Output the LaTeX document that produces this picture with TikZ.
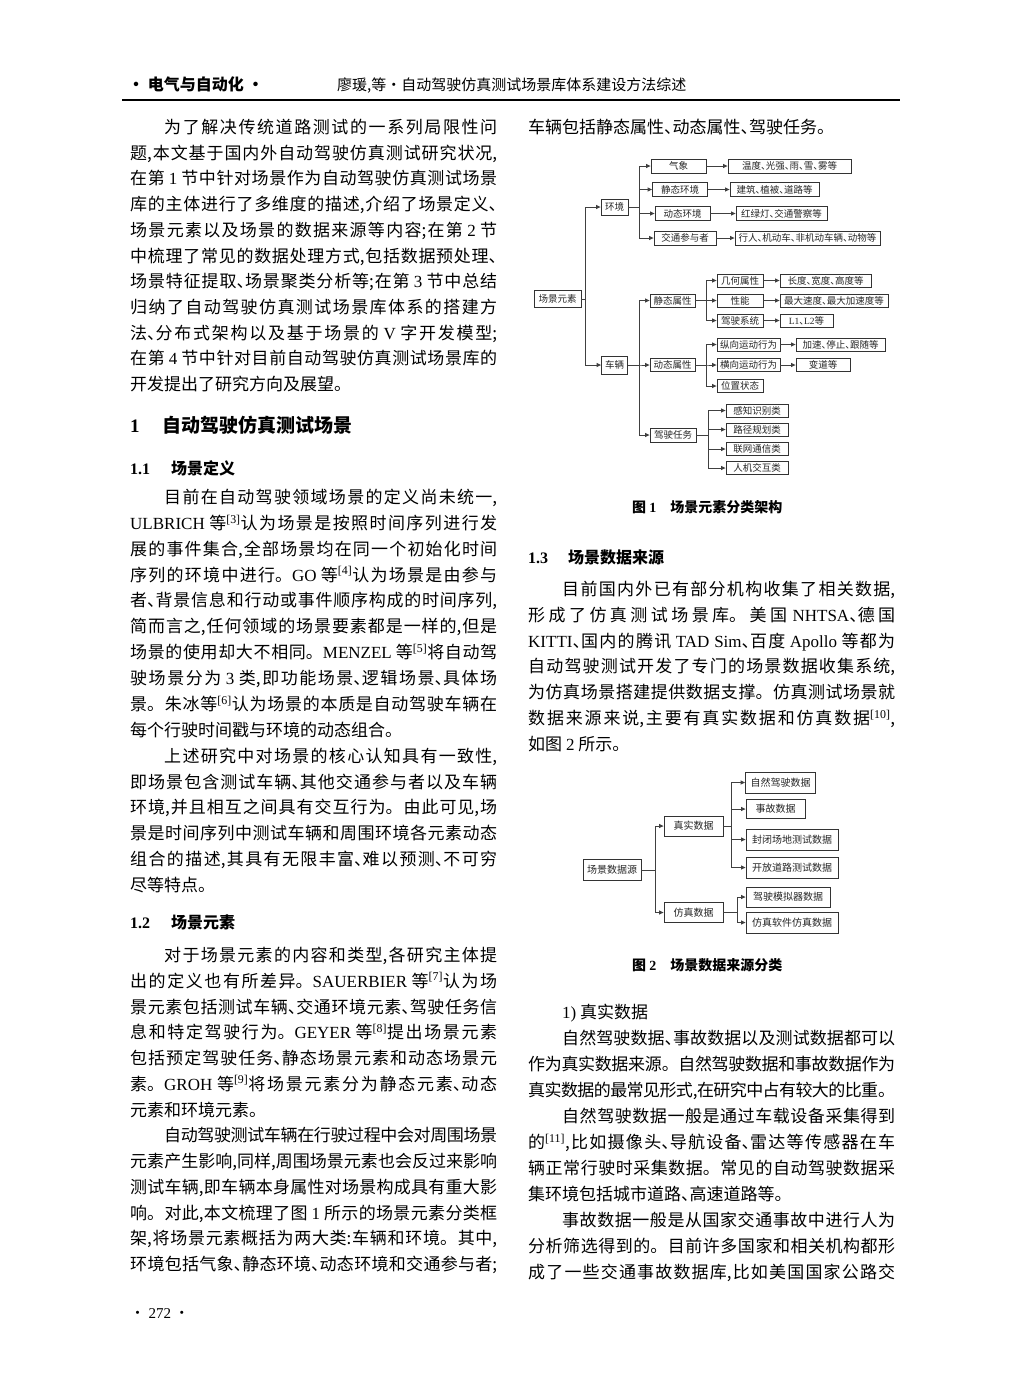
\documentclass[tikz,border=0pt]{standalone}
\usepackage{fontspec}
\setmainfont{Noto Sans CJK SC}
\newfontfamily\lat{Liberation Serif}
\usetikzlibrary{arrows.meta}
\XeTeXlinebreaklocale "zh"
\XeTeXlinebreakskip=0pt plus 4pt minus 1pt
\XeTeXlinebreakpenalty=10000
\catcode`、=\active
\protected\def、{\makebox[.5em][l]{\char"3001\relax}}
\newcommand\e[1]{{\lat #1}}
\newcommand\rf[1]{\textsuperscript{\e{[#1]}}}
\newcommand\ind{\hspace*{2em}}
\newcommand\fin{{\parfillskip=0pt plus 1fil\par}}
\newcommand\txt[2][25.8]{\vtop{\hsize=367pt\parindent=0pt\parfillskip=0pt
  \tolerance=10000\hbadness=10000\hyphenpenalty=10000
  \fontsize{17}{#1}\selectfont #2}}

\begin{document}
\begin{tikzpicture}[x=1pt,y=-1pt]
    \tikzstyle{box}=[draw=black!80, line width=0.8pt, inner sep=0pt, minimum height=14pt, text=black!85, font=\fontsize{9.5}{10}\selectfont]
    \tikzstyle{box2}=[box, minimum height=20pt, font=\fontsize{10}{11}\selectfont]
    \tikzstyle{arr}=[draw=black!75, line width=1pt, -{Triangle[length=4.5pt,width=4pt]}]
    \tikzstyle{para}=[anchor=base west, inner sep=0pt]
    \useasboundingbox (0,0) rectangle (1025,1379);
    \fill[white] (0,0) rectangle (1025,1379);

    % page head
    \node[para, font=\fontsize{16}{16}\selectfont\bfseries] (head) at (128,90) {·~电气与自动化~·};
    \node[para, font=\fontsize{15}{15}\selectfont] (title) at (337,90) {廖瑗,等·自动驾驶仿真测试场景库体系建设方法综述};
    \draw[line width=1.6pt] (122,100) -- (900,100);

    % left column
    \node[para] (p1) at (130,133.5) {\txt[25.7]{%
\ind 为了解决传统道路测试的一系列局限性问\par
题,本文基于国内外自动驾驶仿真测试研究状况,\par
在第~\e{1}~节中针对场景作为自动驾驶仿真测试场景\par
库的主体进行了多维度的描述,介绍了场景定义、\par
场景元素以及场景的数据来源等内容;在第~\e{2}~节\par
中梳理了常见的数据处理方式,包括数据预处理、\par
场景特征提取、场景聚类分析等;在第~\e{3}~节中总结\par
归纳了自动驾驶仿真测试场景库体系的搭建方\par
法、分布式架构以及基于场景的~\e{V}~字开发模型;\par
在第~\e{4}~节中针对目前自动驾驶仿真测试场景库的\par
开发提出了研究方向及展望。\fin}};
    \node[para, font=\fontsize{19}{19}\selectfont\bfseries] (s1) at (130,432) {\e{1}};
    \node[para, font=\fontsize{19}{19}\selectfont\bfseries] (s1t) at (162,432) {自动驾驶仿真测试场景};
    \node[para, font=\fontsize{16}{16}\selectfont\bfseries] (s11) at (130,474) {\e{1.1}};
    \node[para, font=\fontsize{16}{16}\selectfont\bfseries] (s11t) at (171,474) {场景定义};
    \node[para] (p2) at (130,503.5) {\txt[25.87]{%
\ind 目前在自动驾驶领域场景的定义尚未统一,\par
\e{ULBRICH}~等\rf{3}认为场景是按照时间序列进行发\par
展的事件集合,全部场景均在同一个初始化时间\par
序列的环境中进行。\e{GO}~等\rf{4}认为场景是由参与\par
者、背景信息和行动或事件顺序构成的时间序列,\par
简而言之,任何领域的场景要素都是一样的,但是\par
场景的使用却大不相同。\e{MENZEL}~等\rf{5}将自动驾\par
驶场景分为~\e{3}~类,即功能场景、逻辑场景、具体场\par
景。朱冰等\rf{6}认为场景的本质是自动驾驶车辆在\par
每个行驶时间戳与环境的动态组合。\fin
\ind 上述研究中对场景的核心认知具有一致性,\par
即场景包含测试车辆、其他交通参与者以及车辆\par
环境,并且相互之间具有交互行为。由此可见,场\par
景是时间序列中测试车辆和周围环境各元素动态\par
组合的描述,其具有无限丰富、难以预测、不可穷\par
尽等特点。\fin}};
    \node[para, font=\fontsize{16}{16}\selectfont\bfseries] (s12) at (130,928) {\e{1.2}};
    \node[para, font=\fontsize{16}{16}\selectfont\bfseries] (s12t) at (171,928) {场景元素};
    \node[para] (p3) at (130,961.5) {\txt[25.75]{%
\ind 对于场景元素的内容和类型,各研究主体提\par
出的定义也有所差异。\e{SAUERBIER}~等\rf{7}认为场\par
景元素包括测试车辆、交通环境元素、驾驶任务信\par
息和特定驾驶行为。\e{GEYER}~等\rf{8}提出场景元素\par
包括预定驾驶任务、静态场景元素和动态场景元\par
素。\e{GROH}~等\rf{9}将场景元素分为静态元素、动态\par
元素和环境元素。\fin
\ind 自动驾驶测试车辆在行驶过程中会对周围场景\par
元素产生影响,同样,周围场景元素也会反过来影响\par
测试车辆,即车辆本身属性对场景构成具有重大影\par
响。对此,本文梳理了图~\e{1}~所示的场景元素分类框\par
架,将场景元素概括为两大类:车辆和环境。其中,\par
环境包括气象、静态环境、动态环境和交通参与者;\par}};
    \node[para, font=\fontsize{15}{15}\selectfont] (pg) at (130,1318) {·~\e{272}~·};

    % right column
    \node[para] (p0) at (528,133.5) {\txt{车辆包括静态属性、动态属性、驾驶任务。\fin}};

    % figure 1
    \node[box, minimum width=47, minimum height=17] (fy) at (557.5,299) {场景元素};
    \node[box, minimum width=27, minimum height=16] (hj) at (614.5,207) {环境};
    \node[box, minimum width=26, minimum height=18] (cl) at (614.5,365) {车辆};
    \node[box, minimum width=55] (qx) at (678.5,166) {气象};
    \node[box, minimum width=55] (jh) at (680,189.5) {静态环境};
    \node[box, minimum width=55] (dh) at (682.5,213.5) {动态环境};
    \node[box, minimum width=62] (jc) at (685,238) {交通参与者};
    \node[box, minimum width=123] (qx2) at (789.5,166) {温度、光强、雨、雪、雾等};
    \node[box, minimum width=89] (jh2) at (774.5,189.5) {建筑、植被、道路等};
    \node[box, minimum width=91] (dh2) at (781.5,213.5) {红绿灯、交通警察等};
    \node[box, minimum width=145] (jc2) at (807.5,238) {行人、机动车、非机动车辆、动物等};
    \node[box, minimum width=45, minimum height=13] (jsx) at (672.5,300.5) {静态属性};
    \node[box, minimum width=45, minimum height=13] (dsx) at (672.5,365) {动态属性};
    \node[box, minimum width=46] (rw) at (673,435) {驾驶任务};
    \node[box, minimum width=46, minimum height=13] (jh1) at (740,280.5) {几何属性};
    \node[box, minimum width=46, minimum height=13] (xn) at (740,300.5) {性能};
    \node[box, minimum width=46, minimum height=13] (jx) at (740,320.5) {驾驶系统};
    \node[box, minimum width=91, minimum height=13] (cd) at (825.5,280.5) {长度、宽度、高度等};
    \node[box, minimum width=108, minimum height=13] (zd) at (834,300.5) {最大速度、最大加速度等};
    \node[box, minimum width=53, minimum height=13] (lv) at (806.5,320.5) {\e{L1}、\e{L2}等};
    \node[box, minimum width=63, minimum height=13] (zx) at (748.5,344.5) {纵向运动行为};
    \node[box, minimum width=63, minimum height=13] (hx) at (748.5,365) {横向运动行为};
    \node[box, minimum width=46, minimum height=13] (wz) at (740,386) {位置状态};
    \node[box, minimum width=89, minimum height=13] (js) at (840.5,344.5) {加速、停止、跟随等};
    \node[box, minimum width=54, minimum height=13] (bd) at (823,365) {变道等};
    \node[box, minimum width=62, minimum height=13] (gz) at (757,410.5) {感知识别类};
    \node[box, minimum width=62, minimum height=13] (lj) at (757,429.5) {路径规划类};
    \node[box, minimum width=62, minimum height=13] (lw) at (757,449) {联网通信类};
    \node[box, minimum width=62, minimum height=13] (rj) at (757,468) {人机交互类};
    \coordinate (t0) at (585,0);
    \coordinate (t1) at (639,0);
    \coordinate (t2) at (706,0);
    \coordinate (t3) at (708,0);
    \foreach \c in {hj,cl} \draw[arr] (fy.east) -- (fy.east -| t0) |- (\c.west);
    \foreach \c in {qx,jh,dh,jc} \draw[arr] (hj.east) -- (hj.east -| t1) |- (\c.west);
    \foreach \c in {jsx,dsx,rw} \draw[arr] (cl.east) -- (cl.east -| t1) |- (\c.west);
    \foreach \c in {jh1,xn,jx} \draw[arr] (jsx.east) -- (jsx.east -| t2) |- (\c.west);
    \foreach \c in {zx,hx,wz} \draw[arr] (dsx.east) -- (dsx.east -| t2) |- (\c.west);
    \foreach \c in {gz,lj,lw,rj} \draw[arr] (rw.east) -- (rw.east -| t3) |- (\c.west);
    \foreach \a/\b in {qx/qx2,jh/jh2,dh/dh2,jc/jc2,jh1/cd,xn/zd,jx/lv,zx/js,hx/bd}
      \draw[arr] (\a.east) -- (\b.west);
    \node[para, font=\fontsize{14}{14}\selectfont\bfseries] (cap1) at (632,512) {图~\e{1}\hspace{14pt}场景元素分类架构};

    \node[para, font=\fontsize{16}{16}\selectfont\bfseries] (s13) at (528,563) {\e{1.3}};
    \node[para, font=\fontsize{16}{16}\selectfont\bfseries] (s13t) at (568,563) {场景数据来源};
    \node[para] (p4) at (528,595.5) {\txt{%
\ind 目前国内外已有部分机构收集了相关数据,\par
形成了仿真测试场景库。美国~\e{NHTSA}、德国\par
\e{KITTI}、国内的腾讯~\e{TAD~Sim}、百度~\e{Apollo}~等都为\par
自动驾驶测试开发了专门的场景数据收集系统,\par
为仿真场景搭建提供数据支撑。仿真测试场景就\par
数据来源来说,主要有真实数据和仿真数据\rf{10},\par
如图~\e{2}~所示。\fin}};

    % figure 2
    \node[box2, minimum width=58, minimum height=21] (sy) at (612,870) {场景数据源};
    \node[box2, minimum width=59] (zs) at (693.5,826) {真实数据};
    \node[box2, minimum width=59] (fz) at (693.5,912.5) {仿真数据};
    \node[box2, minimum width=70, minimum height=21] (zr) at (780.5,782.5) {自然驾驶数据};
    \node[box2, minimum width=59, minimum height=19] (sg) at (775.5,809) {事故数据};
    \node[box2, minimum width=92, minimum height=21] (fb) at (792,839.5) {封闭场地测试数据};
    \node[box2, minimum width=92, minimum height=21] (kf) at (792,867.5) {开放道路测试数据};
    \node[box2, minimum width=84] (mn) at (788,897) {驾驶模拟器数据};
    \node[box2, minimum width=92, minimum height=21] (rf) at (792,922.5) {仿真软件仿真数据};
    \coordinate (u0) at (655,0);
    \coordinate (u1) at (731,0);
    \coordinate (u2) at (737,0);
    \foreach \c in {zs,fz} \draw[arr] (sy.east) -- (sy.east -| u0) |- (\c.west);
    \foreach \c in {zr,sg,fb,kf} \draw[arr] (zs.east) -- (zs.east -| u1) |- (\c.west);
    \foreach \c in {mn,rf} \draw[arr] (fz.east) -- (fz.east -| u2) |- (\c.west);
    \node[para, font=\fontsize{14}{14}\selectfont\bfseries] (cap2) at (632,970) {图~\e{2}\hspace{14pt}场景数据来源分类};

    \node[para] (p5) at (528,1018.5) {\txt[26]{%
\ind\e{1)}~真实数据\fin
\ind 自然驾驶数据、事故数据以及测试数据都可以\par
作为真实数据来源。自然驾驶数据和事故数据作为\par
真实数据的最常见形式,在研究中占有较大的比重。\par
\ind 自然驾驶数据一般是通过车载设备采集得到\par
的\rf{11},比如摄像头、导航设备、雷达等传感器在车\par
辆正常行驶时采集数据。常见的自动驾驶数据采\par
集环境包括城市道路、高速道路等。\fin
\ind 事故数据一般是从国家交通事故中进行人为\par
分析筛选得到的。目前许多国家和相关机构都形\par
成了一些交通事故数据库,比如美国国家公路交\par}};
\end{tikzpicture}
\end{document}
